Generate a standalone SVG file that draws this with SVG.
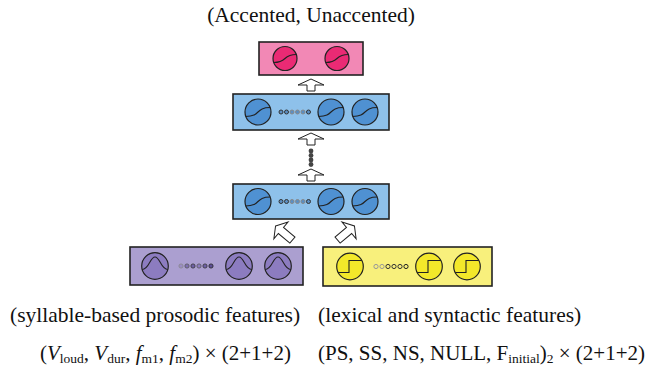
<svg xmlns="http://www.w3.org/2000/svg" width="652" height="369" viewBox="0 0 652 369">
<style>
.box{stroke:#222;stroke-width:1.6}
.neu{stroke:#222;stroke-width:1.2}
.crv{fill:none;stroke:#222;stroke-width:1.1}
.arr{fill:#fff;stroke:#222;stroke-width:1;stroke-linejoin:miter}
.t{font-family:"Liberation Serif","Times New Roman",serif;font-size:21.5px;fill:#111}
.b{font-size:21px}
.it{font-style:italic}
.sb{font-size:13.5px}
.dk{stroke:#333;stroke-width:1}
.lt{stroke:#888;stroke-width:1}
</style>
<defs>
<polygon id="uparr" class="arr" points="0,0 13,6 4,6 4,12 -4,12 -4,6 -13,6"/>
<polygon id="darr" class="arr" points="0,-11 11,-4 4,-4 4,11 -4,11 -4,-4 -11,-4"/>
</defs>

<g id="output">
<rect class="box" x="259" y="42" width="104" height="33" fill="#f288b5"/>
<g transform="translate(285,58.5)"><circle r="12" class="neu" fill="#ea2a74"/><path class="crv" d="M-11.3,4 C3,4 -3,-4 11.3,-4"/></g>
<g transform="translate(337,58.5)"><circle r="12" class="neu" fill="#ea2a74"/><path class="crv" d="M-11.3,4 C3,4 -3,-4 11.3,-4"/></g>
</g>

<g id="hidden2">
<rect class="box" x="233" y="94" width="156" height="36" fill="#8ec1ea"/>
<g fill="#4f91d2">
<g transform="translate(258,112)"><circle r="13" class="neu"/><path class="crv" d="M-12.2,4.5 C3,4.5 -3,-4.5 12.2,-4.5"/></g>
<g transform="translate(331,112)"><circle r="13" class="neu"/><path class="crv" d="M-12.2,4.5 C3,4.5 -3,-4.5 12.2,-4.5"/></g>
<g transform="translate(365,112)"><circle r="13" class="neu"/><path class="crv" d="M-12.2,4.5 C3,4.5 -3,-4.5 12.2,-4.5"/></g>
</g>
<g fill="#5a8fc4">
<circle class="dk" cx="281" cy="112" r="2"/><circle class="dk" cx="286.5" cy="112" r="2"/>
<circle class="lt" cx="292" cy="112" r="2"/><circle class="lt" cx="297.5" cy="112" r="2"/><circle class="lt" cx="303" cy="112" r="2"/>
<circle class="dk" cx="308.5" cy="112" r="2"/>
</g>
</g>

<g id="hidden1">
<rect class="box" x="233" y="184" width="156" height="35" fill="#8ec1ea"/>
<g fill="#4f91d2">
<g transform="translate(258,201.5)"><circle r="13" class="neu"/><path class="crv" d="M-12.2,4.5 C3,4.5 -3,-4.5 12.2,-4.5"/></g>
<g transform="translate(331,201.5)"><circle r="13" class="neu"/><path class="crv" d="M-12.2,4.5 C3,4.5 -3,-4.5 12.2,-4.5"/></g>
<g transform="translate(365,201.5)"><circle r="13" class="neu"/><path class="crv" d="M-12.2,4.5 C3,4.5 -3,-4.5 12.2,-4.5"/></g>
</g>
<g fill="#5a8fc4">
<circle class="dk" cx="281" cy="201.5" r="2"/><circle class="dk" cx="286.5" cy="201.5" r="2"/>
<circle class="lt" cx="292" cy="201.5" r="2"/><circle class="lt" cx="297.5" cy="201.5" r="2"/><circle class="lt" cx="303" cy="201.5" r="2"/>
<circle class="dk" cx="308.5" cy="201.5" r="2"/>
</g>
</g>

<g id="prosodic">
<rect class="box" x="130" y="247" width="173" height="38" fill="#ab9fd0"/>
<g fill="#8c7cc0">
<g transform="translate(155,266)"><circle r="13.3" class="neu"/><path class="crv" d="M-12.8,3.5 C-6,3.5 -5,-9 0,-9 C5,-9 6,3.5 12.8,3.5"/></g>
<g transform="translate(239,266)"><circle r="13.3" class="neu"/><path class="crv" d="M-12.8,3.5 C-6,3.5 -5,-9 0,-9 C5,-9 6,3.5 12.8,3.5"/></g>
<g transform="translate(278,266)"><circle r="13.3" class="neu"/><path class="crv" d="M-12.8,3.5 C-6,3.5 -5,-9 0,-9 C5,-9 6,3.5 12.8,3.5"/></g>
</g>
<circle cx="181" cy="266" r="2.1" fill="#9a8cc4" stroke="#888" stroke-width="0.8"/>
<circle cx="187" cy="266" r="2.1" fill="#7f70b4" stroke="#555" stroke-width="0.8"/>
<circle cx="193" cy="266" r="2.1" fill="#6e60a6" stroke="#333" stroke-width="0.8"/>
<circle cx="199" cy="266" r="2.1" fill="#8c7cc0" stroke="#555" stroke-width="0.8"/>
<circle cx="205" cy="266" r="2.1" fill="#6e60a6" stroke="#333" stroke-width="0.8"/>
<circle cx="211" cy="266" r="2.1" fill="#5e5096" stroke="#222" stroke-width="0.8"/>
</g>

<g id="lexical">
<rect class="box" x="323" y="247" width="169" height="39" fill="#f8f07c"/>
<g fill="#f3e82a">
<g transform="translate(350,266.5)"><circle r="13.3" class="neu"/><path class="crv" d="M-11.8,6 H-1 V-6 H11.8"/></g>
<g transform="translate(429,266.5)"><circle r="13.3" class="neu"/><path class="crv" d="M-11.8,6 H-1 V-6 H11.8"/></g>
<g transform="translate(467,266.5)"><circle r="13.3" class="neu"/><path class="crv" d="M-11.8,6 H-1 V-6 H11.8"/></g>
</g>
<g fill="none" stroke-width="1">
<circle cx="376" cy="266.5" r="2.1" stroke="#999"/>
<circle cx="382" cy="266.5" r="2.1" stroke="#999"/>
<circle cx="388" cy="266.5" r="2.1" stroke="#333"/>
<circle cx="394" cy="266.5" r="2.1" stroke="#333"/>
<circle cx="400" cy="266.5" r="2.1" stroke="#333"/>
<circle cx="406" cy="266.5" r="2.1" stroke="#222"/>
</g>
</g>

<g id="connectors">
<use href="#uparr" x="311" y="79"/>
<use href="#uparr" x="311" y="133"/>
<use href="#uparr" x="311" y="169"/>
<g fill="#444">
<circle cx="311" cy="151" r="2.4"/><circle cx="311" cy="155.5" r="2.4"/><circle cx="311" cy="160" r="2.4"/><circle cx="311" cy="164.5" r="2.4"/>
</g>
<use href="#darr" transform="translate(284,233) rotate(-50)"/>
<use href="#darr" transform="translate(346,233) rotate(50)"/>
</g>

<g id="labels">
<text class="t" x="311" y="22" text-anchor="middle">(Accented, Unaccented)</text>
<text class="t" x="10" y="322">(syllable-based prosodic features)</text>
<text class="t" x="318" y="322">(lexical and syntactic features)</text>
<text class="t b" x="40" y="360">(<tspan class="it">V</tspan><tspan class="sb" dy="3">loud</tspan><tspan dy="-3">, </tspan><tspan class="it">V</tspan><tspan class="sb" dy="3">dur</tspan><tspan dy="-3">, </tspan><tspan class="it">f</tspan><tspan class="sb" dy="3">m1</tspan><tspan dy="-3">, </tspan><tspan class="it">f</tspan><tspan class="sb" dy="3">m2</tspan><tspan dy="-3">) × (2+1+2)</tspan></text>
<text class="t b" x="318" y="360">(PS, SS, NS, NULL, F<tspan class="sb" dy="3">initial</tspan><tspan dy="-3">)</tspan><tspan class="sb" dy="3">2</tspan><tspan dy="-3"> × (2+1+2)</tspan></text>
</g>
</svg>
